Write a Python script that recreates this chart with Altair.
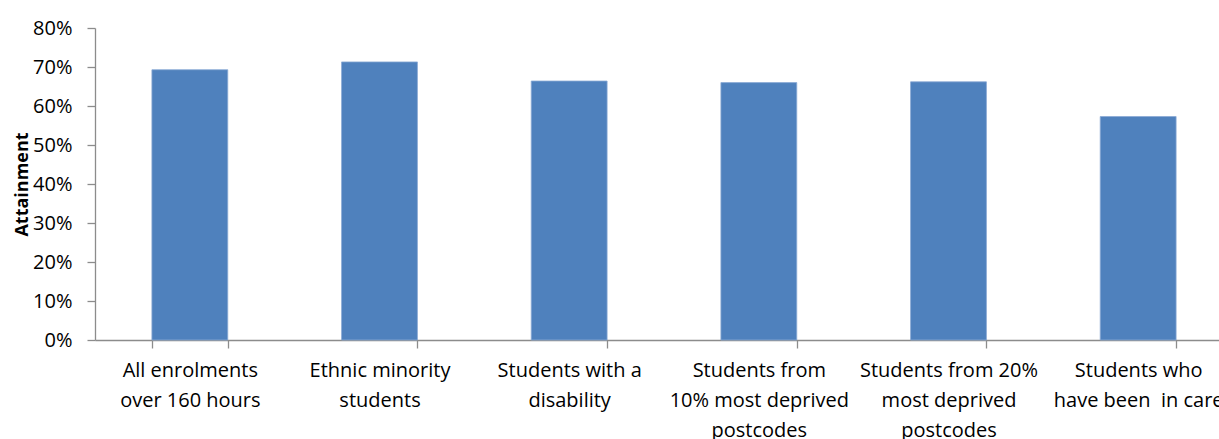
import altair as alt
import pandas as pd

categories = [
    "All enrolments\nover 160 hours",
    "Ethnic minority\nstudents",
    "Students with a\ndisability",
    "Students from\n10% most deprived\npostcodes",
    "Students from 20%\nmost deprived\npostcodes",
    "Students who\nhave been \u00a0in care",
]
attainment = [0.693, 0.713, 0.664, 0.660, 0.662, 0.573]
y_ticks = [0, 0.1, 0.2, 0.3, 0.4, 0.5, 0.6, 0.7, 0.8]

df = pd.DataFrame({"category": categories, "attainment": attainment})

FONT = "Open Sans"

chart = (
    alt.Chart(df)
    .mark_bar(color="#4F81BD", stroke="#8aaad4", strokeWidth=0.8)
    .encode(
        x=alt.X(
            "category:N",
            sort=categories,
            scale=alt.Scale(range=[0, 1138], paddingInner=0.6, paddingOuter=0.3),
            axis=alt.Axis(
                title=None,
                labelAngle=0,
                labelExpr="split(datum.label, '\\n')",
                labelFont=FONT,
                labelFontSize=20,
                labelLineHeight=30,
                labelColor="#000000",
                labelLimit=400,
                labelPadding=12,
                labelBaseline="top",
                tickBand="extent",
                tickSize=8,
                tickColor="#8c8c8c",
                tickWidth=1.3,
                domainColor="#8c8c8c",
                domainWidth=1.3,
            ),
        ),
        y=alt.Y(
            "attainment:Q",
            scale=alt.Scale(domain=[0, 0.8], nice=False),
            axis=alt.Axis(
                title="Attainment",
                titleFont=FONT,
                titleFontSize=18,
                titleFontWeight="bold",
                titleColor="#000000",
                titlePadding=1,
                values=y_ticks,
                format=".0%",
                labelFont=FONT,
                labelFontSize=20,
                labelColor="#000000",
                labelPadding=15,
                tickSize=8,
                tickColor="#8c8c8c",
                tickWidth=1.3,
                domainColor="#8c8c8c",
                domainWidth=1.3,
                grid=False,
            ),
        ),
    )
    .properties(
        width=1124,
        height=312,
        autosize=alt.AutoSizeParams(type="none"),
        padding={"left": 95, "top": 28, "right": 0, "bottom": 99},
    )
    .configure_view(stroke=None)
)

chart.save("out.html", embed_options={"renderer": "svg", "actions": False})
